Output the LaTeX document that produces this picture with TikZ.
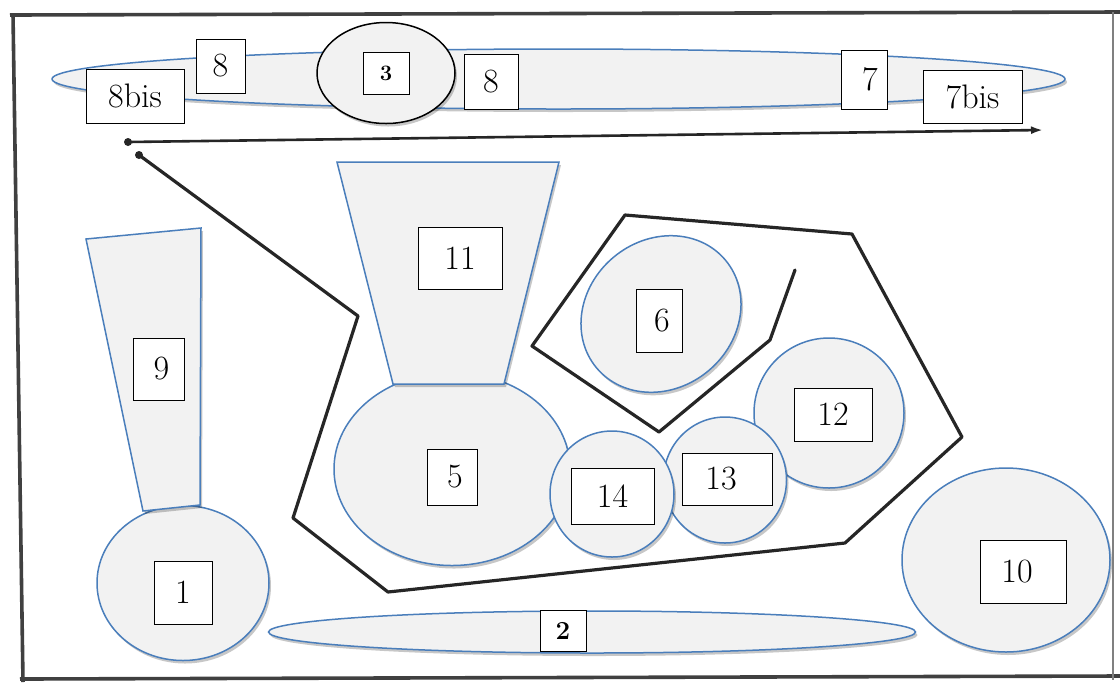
\documentclass[tikz,border=0pt]{standalone}
\usetikzlibrary{shapes.geometric,shadows,arrows.meta}
\definecolor{shapeblue}{HTML}{4A7EBB}
\definecolor{shapefill}{HTML}{F2F2F2}
\tikzset{
  shsty/.style={drop shadow={shadow xshift=1pt, shadow yshift=-1.5pt, fill=black, opacity=0.22}},
  shp/.style={draw=shapeblue, fill=shapefill, line width=0.75pt, shsty},
  ell/.style 2 args={shp, ellipse, inner sep=0pt, outer sep=0pt, minimum width=#1*0.5pt, minimum height=#2*0.5pt},
  lbox/.style 2 args={draw=black, fill=white, line width=0.5pt, inner sep=0pt, minimum width=#1*0.5pt, minimum height=#2*0.5pt, font=\fontsize{17}{20}\selectfont},
  smallbold/.style={font=\bfseries\fontsize{11}{12}\selectfont},
  wire/.style={draw=black!85, line width=1.6pt, line join=round, line cap=round},
  framesty/.style={draw=black!75, line width=1.8pt},
}
\begin{document}
\begin{tikzpicture}[x=0.5pt,y=-0.5pt]
\useasboundingbox (0,0) rectangle (1120,682);
\fill[white] (0,0) rectangle (1120,682);
% frame
\draw[framesty] (10,15) -- (1120,12);
\draw[framesty] (13,14) -- (23,682);
\draw[framesty] (20,679) -- (1120,676);
\draw[black!50, line width=0.8pt] (1113,12) -- (1113,680);

% top band
\node[ell={1013}{60}] (e8) at (558.5,79) {};
\node[ell={138}{101}, draw=black] (e3) at (386,73) {};

% bottom band
\node[ell={647}{42}] (e2) at (592,632) {};

% 1 and 9
\node[ell={172}{155}] (e1) at (183,583) {};
\path[shp] (86,239) -- (201,228) -- (200,505) -- (143,511) -- cycle;

% 5 and 11
\node[ell={236}{193}] (e5) at (452,469) {};
\path[shp] (337,162) -- (559,162) -- (504,384) -- (393,384) -- cycle;

% 6
\node[ell={168}{148}, rotate=40] (e6) at (661,314) {};
% 12, 13, 14
\node[ell={150}{150}] (e12) at (829,413) {};
\node[ell={123}{126}] (e13) at (725,480) {};
\node[ell={124}{126}] (e14) at (612,494) {};
% 10
\node[ell={208}{184}] (e10) at (1006,560) {};

% wires
\coordinate (a0) at (128,142);
\coordinate (a1) at (1043,130);
\coordinate (p0) at (139,155);
\coordinate (p1) at (358,316);
\coordinate (p2) at (293,518);
\coordinate (p3) at (388,592);
\coordinate (p4) at (845,543);
\coordinate (p5) at (962,437);
\coordinate (p6) at (852,234);
\coordinate (p7) at (625,215);
\coordinate (p8) at (532,346);
\coordinate (p9) at (659,432);
\coordinate (p10) at (770,340);
\coordinate (p11) at (795,270);
\draw[wire, line width=1.3pt, -{Latex[length=6pt,width=4pt]}] (a0) -- (a1);
\fill[black!85] (a0) circle (4);
\fill[black!85] (p0) circle (4);
\draw[wire] (p0) -- (p1) -- (p2) -- (p3) -- (p4) -- (p5) -- (p6) -- (p7) -- (p8) -- (p9) -- (p10) -- (p11);

% labels
\node[lbox={46}{42}, smallbold] (b3) at (386,73) {3};
\node[lbox={49}{54}] (b8a) at (220.5,66) {8};
\node[lbox={98}{54}] (b8bis) at (135,96) {8bis};
\node[lbox={54}{55}] (b8b) at (491,81.5) {8};
\node[lbox={46}{59}] (b7) at (864,79.5) {\hspace*{6pt}7};
\node[lbox={99}{53}] (b7bis) at (972.5,96.5) {7bis};
\node[lbox={51}{62}] (b9) at (158.5,369) {\hspace*{3pt}9};
\node[lbox={58}{63}] (b1) at (183,592.5) {1};
\node[lbox={84}{62}] (b11) at (460,258) {11};
\node[lbox={50}{56}] (b5) at (452,477) {\hspace*{3pt}5};
\node[lbox={46}{63}] (b6) at (659,320.5) {\hspace*{3pt}6};
\node[lbox={78}{53}] (b12) at (833,414.5) {12};
\node[lbox={90}{52}] (b13) at (727,479) {\hspace*{-6pt}13};
\node[lbox={83}{56}] (b14) at (612.5,496) {14};
\node[lbox={86}{63}] (b10) at (1023,571.5) {\hspace*{-6pt}10};
\node[lbox={46}{41}, font=\bfseries\fontsize{13}{14}\selectfont] (b2) at (563,630.5) {2};
\end{tikzpicture}
\end{document}
